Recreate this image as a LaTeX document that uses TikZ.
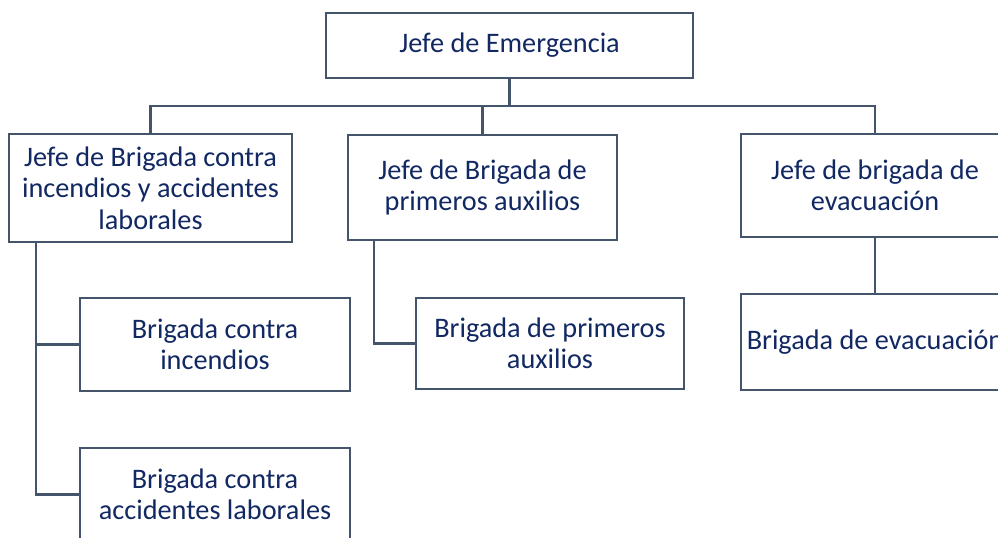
\documentclass[tikz,border=0pt]{standalone}
\usepackage{fontspec}
\usetikzlibrary{calc}
\setmainfont{Carlito}
\definecolor{linec}{HTML}{44546A}
\definecolor{textc}{RGB}{18,40,98}
\newdimen\pxu \pxu=0.75pt
\begin{document}
\begin{tikzpicture}[x=0.75pt,y=-0.75pt,
  orgbox/.style={draw=linec,line width=1.6pt,fill=white,text=textc,align=center,
    inner sep=0pt,font=\fontsize{21.2}{23.5}\selectfont},
  conn/.style={draw=linec,line width=1.6pt}]
\useasboundingbox (0,0) rectangle (998,538);
\clip (0,0) rectangle (998,538);
\node[orgbox,minimum width=367\pxu,minimum height=65\pxu] (top) at (509.5,45.5) {Jefe de Emergencia};
\node[orgbox,minimum width=283\pxu,minimum height=108\pxu] (A) at (150.5,188) {Jefe de Brigada contra\\incendios y accidentes\\laborales};
\node[orgbox,minimum width=269\pxu,minimum height=105\pxu] (B) at (482.5,187.5) {Jefe de Brigada de\\primeros auxilios};
\node[orgbox,minimum width=268\pxu,minimum height=103\pxu] (C) at (875,185.5) {Jefe de brigada de\\evacuación};
\node[orgbox,minimum width=270\pxu,minimum height=93\pxu] (D) at (215,344.5) {Brigada contra\\incendios};
\node[orgbox,minimum width=270\pxu,minimum height=93\pxu] (E) at (215,494.5) {Brigada contra\\accidentes laborales};
\node[orgbox,minimum width=268\pxu,minimum height=91\pxu] (F) at (550,343.5) {Brigada de primeros\\auxilios};
\node[orgbox,minimum width=268\pxu,minimum height=96\pxu] (G) at (875,342) {Brigada de evacuación};
\coordinate (bus) at (509,106);
\coordinate (a1) at ($(A.south west)+(28,0)$);
\coordinate (b1) at ($(B.south west)+(27,0)$);
\draw[conn] (top.south) -- (top.south |- bus);
\draw[conn] (A.north) |- (bus) -| (C.north);
\draw[conn] (B.north) -- (B.north |- bus);
\draw[conn] (a1) |- (E.west);
\draw[conn] (a1 |- D.west) -- (D.west);
\draw[conn] (b1) |- (F.west);
\draw[conn] (C.south) -- (G.north);
\end{tikzpicture}
\end{document}
